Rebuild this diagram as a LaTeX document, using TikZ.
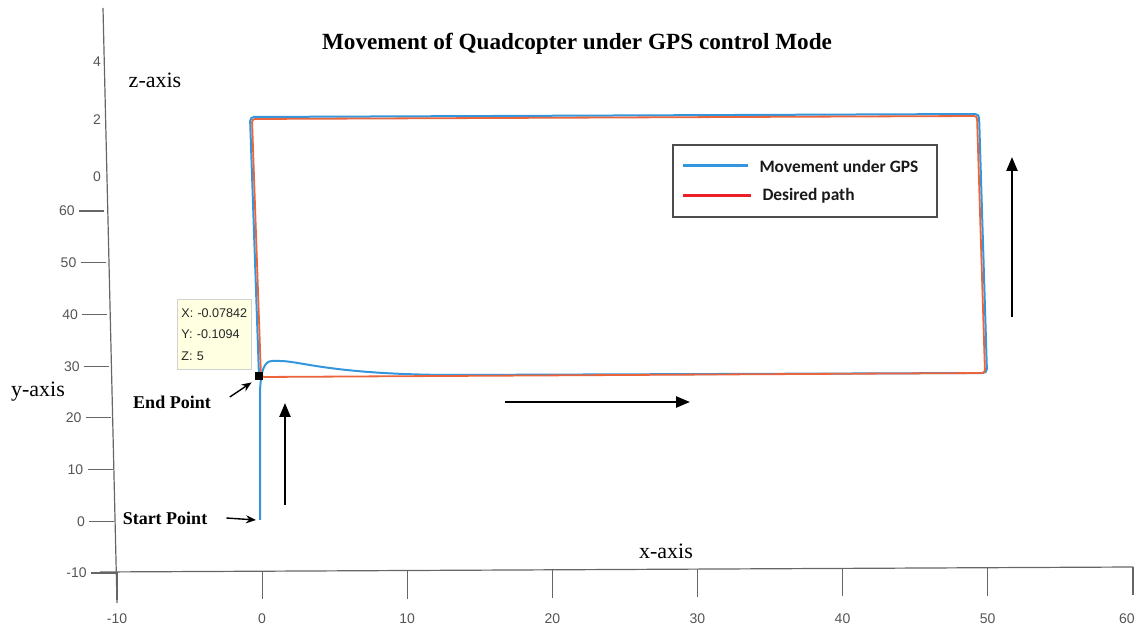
\documentclass[tikz,border=0pt]{standalone}
\usepackage{fontspec}
\setmainfont{Liberation Serif}
\setsansfont{Liberation Sans}
\newfontfamily\legendfont{Carlito}
\usepackage{xcolor}
\usetikzlibrary{arrows.meta, positioning, calc}
\definecolor{gpsblue}{RGB}{52,150,220}
\definecolor{pathred}{RGB}{235,100,60}
\definecolor{legendred}{RGB}{235,30,40}
\definecolor{tipyellow}{RGB}{255,255,226}
\definecolor{tickgray}{RGB}{85,85,85}

\begin{document}
\begin{tikzpicture}[x=0.5pt, y=-0.5pt,
    axisline/.style={draw=gray!80!black, line width=0.6pt},
    ticklbl/.style={font=\sffamily\fontsize{7}{8}\selectfont, text=tickgray, inner sep=1pt},
    axislbl/.style={font=\fontsize{11}{13}\selectfont},
    ptlbl/.style={font=\bfseries\fontsize{9}{11}\selectfont},
    legendtxt/.style={font=\legendfont\bfseries\fontsize{8.7}{10}\selectfont, text=black!90, inner sep=0pt, anchor=west},
    bigarrow/.style={-{Triangle[length=7pt, width=5.5pt]}, line width=1.2pt},
    smallarrow/.style={-{Stealth[length=5pt, width=4pt]}, line width=0.7pt}]
    \useasboundingbox (0,0) rectangle (1137,630);

    % Title
    \node[font=\bfseries\fontsize{11.6}{14}\selectfont] (title) at (577,44) {Movement of Quadcopter under GPS control Mode};

    % Axes
    \coordinate (zTop) at (103,8);
    \coordinate (yEnd) at (117,603);
    \coordinate (xStart) at (100,572);
    \coordinate (xEnd) at (1133,567);
    \draw[axisline] (zTop) -- (yEnd);
    \draw[axisline] (xStart) -- (xEnd);

    \foreach \z/\py in {4/62, 2/120, 0/177}
      \node[ticklbl] (zt\z) at (97,\py) {\z};

    \foreach \v [count=\i, evaluate=\v as \py using {573-(\v+10)*5.17},
                 evaluate=\v as \px using {116-(\v+10)*12/70}] in {-10,0,...,60} {
      \draw[axisline] (\px-25,\py) -- (\px,\py);
      \node[ticklbl, anchor=east] (yt\i) at (\px-27,\py) {\v};
    }

    \foreach \v [count=\i, evaluate=\v as \px using {117+(\v+10)*14.51},
                 evaluate=\v as \py using {572-(\v+10)*5/70}] in {-10,0,...,50} {
      \draw[axisline] (\px,\py) -- (\px,\py+28);
      \node[ticklbl] (xt\i) at (\px,619) {\v};
    }
    \draw[axisline] (1133,567) -- (1133,595);
    \node[ticklbl, anchor=east] (xt8) at (1137,619) {60};

    \node[axislbl] (zlbl) at (155,80) {z-axis};
    \node[axislbl] (ylbl) at (38,392) {y-axis};
    \node[axislbl] (xlbl) at (666,551) {x-axis};

    % Path
    \coordinate (startPt) at (260,520);
    \coordinate (endPt) at (259,376);

    \draw[gpsblue, line width=1pt, rounded corners=2pt] (startPt) -- (260,392)
      .. controls (261,372) and (264,361) .. (276,361)
      .. controls (300,361) and (330,374) .. (450,375)
      -- (987,373) -- (979,114) -- (250,117) -- (endPt);
    \draw[pathred, line width=0.9pt, rounded corners=1.5pt] (261,377) -- (985,373)
      -- (977,116) -- (252,119) -- cycle;

    % Data tip
    \node[fill=black, minimum size=4pt, inner sep=0pt] (tipMark) at (endPt) {};
    \node[draw=gray!35, fill=tipyellow, anchor=north west, text width=33pt, minimum height=35pt,
          inner xsep=2pt, align=left, text=black!85,
          font=\sffamily\fontsize{6.3}{10.7}\selectfont] (tip) at (177,299)
          {X: -0.07842\\Y: -0.1094\\Z: 5};

    % Points
    \node[ptlbl] (endLbl) at (172,402) {End Point};
    \node[ptlbl] (startLbl) at (165,518) {Start Point};
    \draw[smallarrow] ([xshift=6pt, yshift=2.5pt]endLbl.east) -- ([xshift=-1.5pt, yshift=-1pt]tipMark.south west);
    \draw[smallarrow] ([xshift=6pt]startLbl.east) -- ([xshift=-2pt]startPt);

    % Direction arrows
    \coordinate (upA1) at (285,505);
    \coordinate (upA2) at (285,403);
    \coordinate (rightA1) at (505,402);
    \coordinate (rightA2) at (690,402);
    \coordinate (upB1) at (1012,317);
    \coordinate (upB2) at (1012,157);
    \draw[bigarrow] (upA1) -- (upA2);
    \draw[bigarrow] (rightA1) -- (rightA2);
    \draw[bigarrow] (upB1) -- (upB2);

    % Legend
    \draw[draw=gray!60!black, line width=0.8pt] (673,145) rectangle (937,217);
    \draw[gpsblue, line width=1.5pt] (683,166) -- (748,166)
      node[legendtxt, xshift=5pt] (lgGps) {Movement under GPS};
    \draw[legendred, line width=1.5pt] (683,196) -- (751,196)
      node[legendtxt, xshift=5pt] (lgPath) {Desired path};
\end{tikzpicture}
\end{document}
